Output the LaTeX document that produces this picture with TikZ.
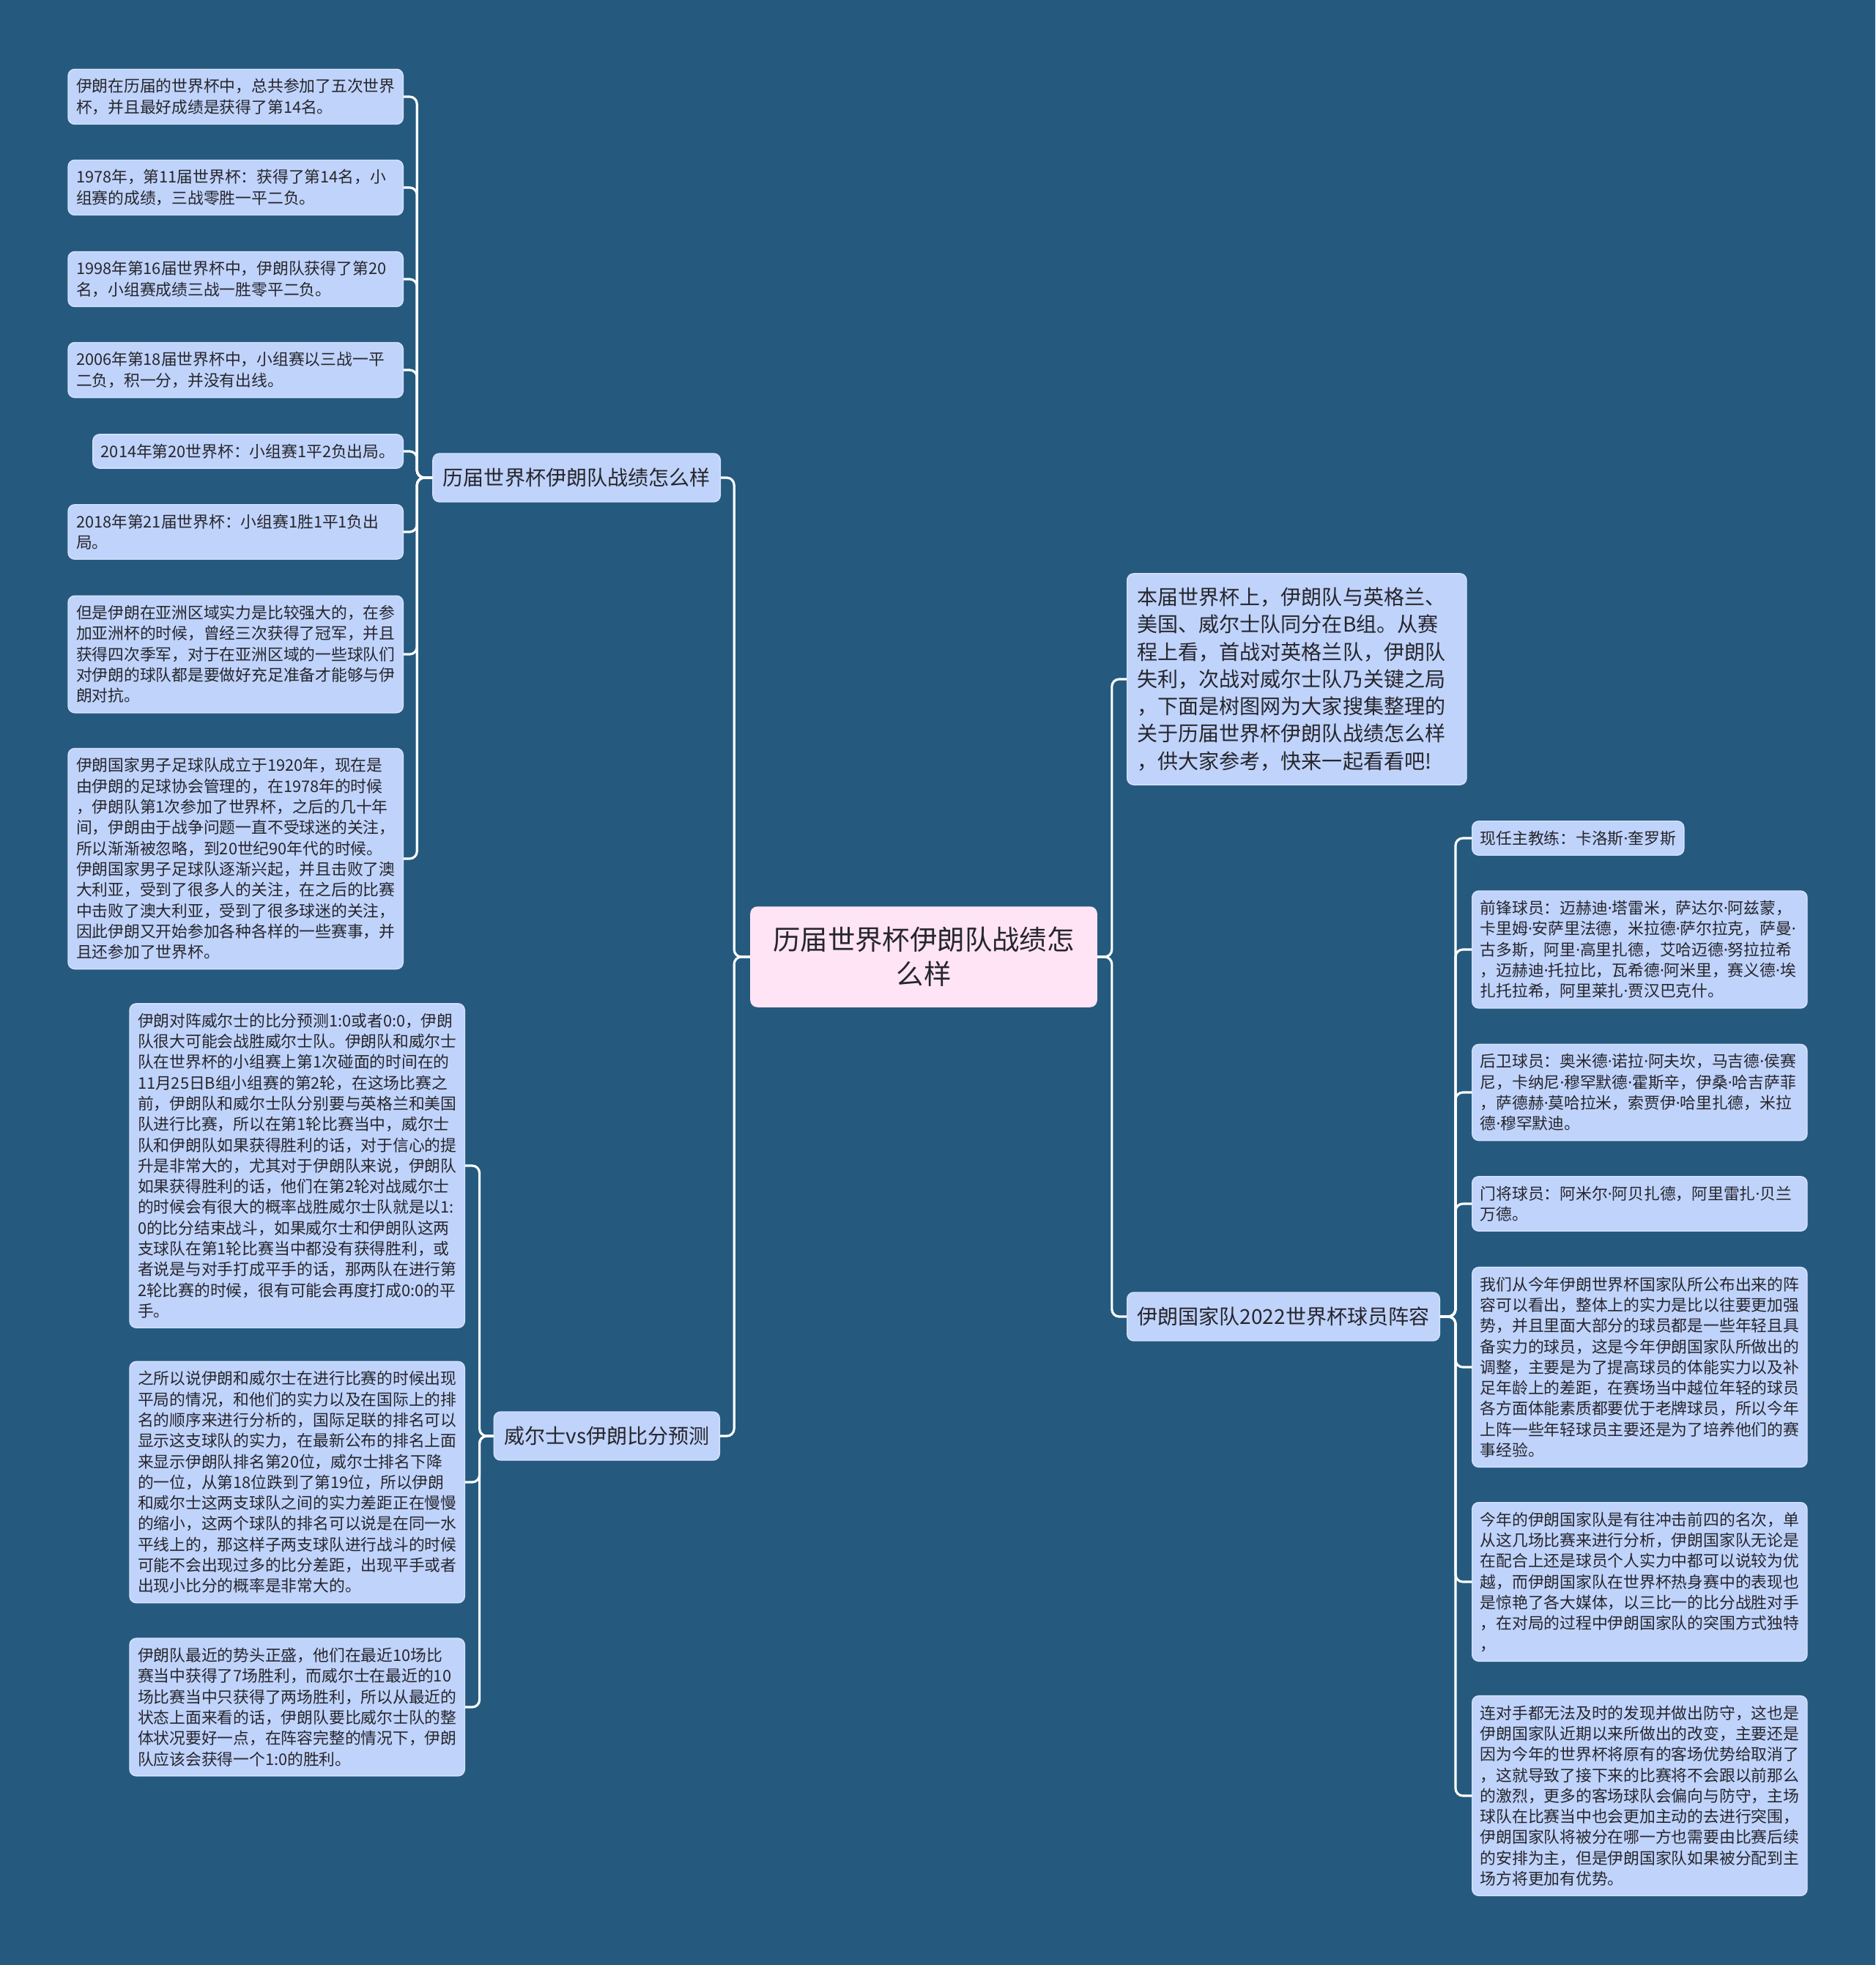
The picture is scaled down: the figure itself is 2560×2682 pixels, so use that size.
\documentclass[tikz,border=0pt]{standalone}
\usepackage{fontspec}
\setmainfont{Noto Sans CJK SC}
\newfontfamily\dotfont{Noto Sans}
\usepackage{tikz}
\usetikzlibrary{positioning}
\usepackage{xcolor}
\definecolor{bgblue}{RGB}{37, 90, 126}
\definecolor{leaffill}{RGB}{192, 211, 251}
\definecolor{leafedge}{RGB}{214, 226, 252}
\definecolor{rootfill}{RGB}{255, 228, 246}
\definecolor{inkgray}{RGB}{38, 38, 44}

\newcommand\leaffont{\fontsize{6.19pt}{8.05pt}\selectfont}
\newcommand\branchfont{\fontsize{7.97pt}{10.6pt}\selectfont}
\newcommand\rootfont{\fontsize{10.64pt}{13.4pt}\selectfont}
% narrow name separator
\newcommand\pdot{{\dotfont ·}}

\tikzset{
  box/.style={rounded corners=0.09cm, fill=leaffill, draw=leafedge, line width=0.4pt, text=inkgray},
  leaf/.style={box, font=\leaffont, inner xsep=0.11cm, inner ysep=0.13cm},
  para/.style={text width=4.35cm, align=left},
  branch/.style={box, font=\branchfont, inner xsep=0.14cm, inner ysep=0.19cm, minimum height=0.66cm},
  rootbox/.style={box, fill=rootfill, draw=rootfill, font=\rootfont, align=center,
    minimum width=4.72cm, minimum height=1.36cm},
  link/.style={draw=white, line width=0.9pt, rounded corners=0.1cm},
}

\begin{document}
\begin{tikzpicture}[x=0.01cm, y=-0.01cm]
  \useasboundingbox (0,0) rectangle (2560,2682);
  \fill[bgblue] (0,0) rectangle (2560,2682);

  % centre and main branches
  \node[rootbox] (root) at (1261,1306) {历届世界杯伊朗队战绩怎\\么样};
  \node[branch, anchor=east] (hist) at (984,652) {历届世界杯伊朗队战绩怎么样};
  \node[branch, anchor=east] (wales) at (983,1960) {威尔士vs伊朗比分预测};
  \node[branch, para, anchor=west] (intro) at (1538,927) {本届世界杯上，伊朗队与英格兰、\\美国、威尔士队同分在B组。从赛\\程上看，首战对英格兰队，伊朗队\\失利，次战对威尔士队乃关键之局\\，下面是树图网为大家搜集整理的\\关于历届世界杯伊朗队战绩怎么样\\，供大家参考，快来一起看看吧!};
  \node[branch, anchor=west] (squad) at (1538,1797) {伊朗国家队2022世界杯球员阵容};

  % history leaves
  \node[leaf, para, anchor=east] (h1) at (551,132) {伊朗在历届的世界杯中，总共参加了五次世界\\杯，并且最好成绩是获得了第14名。};
  \node[leaf, para, anchor=east] (h2) at (551,256) {1978年，第11届世界杯：获得了第14名，小\\组赛的成绩，三战零胜一平二负。};
  \node[leaf, para, anchor=east] (h3) at (551,381) {1998年第16届世界杯中，伊朗队获得了第20\\名，小组赛成绩三战一胜零平二负。};
  \node[leaf, para, anchor=east] (h4) at (551,505) {2006年第18届世界杯中，小组赛以三战一平\\二负，积一分，并没有出线。};
  \node[leaf, anchor=east] (h5) at (551,616) {2014年第20世界杯：小组赛1平2负出局。};
  \node[leaf, para, anchor=east] (h6) at (551,726) {2018年第21届世界杯：小组赛1胜1平1负出\\局。};
  \node[leaf, para, anchor=east] (h7) at (551,893) {但是伊朗在亚洲区域实力是比较强大的，在参\\加亚洲杯的时候，曾经三次获得了冠军，并且\\获得四次季军，对于在亚洲区域的一些球队们\\对伊朗的球队都是要做好充足准备才能够与伊\\朗对抗。};
  \node[leaf, para, anchor=east] (h8) at (551,1172) {伊朗国家男子足球队成立于1920年，现在是\\由伊朗的足球协会管理的，在1978年的时候\\，伊朗队第1次参加了世界杯，之后的几十年\\间，伊朗由于战争问题一直不受球迷的关注，\\所以渐渐被忽略，到20世纪90年代的时候。\\伊朗国家男子足球队逐渐兴起，并且击败了澳\\大利亚，受到了很多人的关注，在之后的比赛\\中击败了澳大利亚，受到了很多球迷的关注，\\因此伊朗又开始参加各种各样的一些赛事，并\\且还参加了世界杯。};

  % prediction leaves
  \node[leaf, para, anchor=east] (w1) at (635,1591) {伊朗对阵威尔士的比分预测1:0或者0:0，伊朗\\队很大可能会战胜威尔士队。伊朗队和威尔士\\队在世界杯的小组赛上第1次碰面的时间在的\\11月25日B组小组赛的第2轮，在这场比赛之\\前，伊朗队和威尔士队分别要与英格兰和美国\\队进行比赛，所以在第1轮比赛当中，威尔士\\队和伊朗队如果获得胜利的话，对于信心的提\\升是非常大的，尤其对于伊朗队来说，伊朗队\\如果获得胜利的话，他们在第2轮对战威尔士\\的时候会有很大的概率战胜威尔士队就是以1:\\0的比分结束战斗，如果威尔士和伊朗队这两\\支球队在第1轮比赛当中都没有获得胜利，或\\者说是与对手打成平手的话，那两队在进行第\\2轮比赛的时候，很有可能会再度打成0:0的平\\手。};
  \node[leaf, para, anchor=east] (w2) at (635,2023) {之所以说伊朗和威尔士在进行比赛的时候出现\\平局的情况，和他们的实力以及在国际上的排\\名的顺序来进行分析的，国际足联的排名可以\\显示这支球队的实力，在最新公布的排名上面\\来显示伊朗队排名第20位，威尔士排名下降\\的一位，从第18位跌到了第19位，所以伊朗\\和威尔士这两支球队之间的实力差距正在慢慢\\的缩小，这两个球队的排名可以说是在同一水\\平线上的，那这样子两支球队进行战斗的时候\\可能不会出现过多的比分差距，出现平手或者\\出现小比分的概率是非常大的。};
  \node[leaf, para, anchor=east] (w3) at (635,2330) {伊朗队最近的势头正盛，他们在最近10场比\\赛当中获得了7场胜利，而威尔士在最近的10\\场比赛当中只获得了两场胜利，所以从最近的\\状态上面来看的话，伊朗队要比威尔士队的整\\体状况要好一点，在阵容完整的情况下，伊朗\\队应该会获得一个1:0的胜利。};

  % squad leaves
  \node[leaf, anchor=west] (s1) at (2009,1144) {现任主教练：卡洛斯\pdot 奎罗斯};
  \node[leaf, para, anchor=west] (s2) at (2009,1296) {前锋球员：迈赫迪\pdot 塔雷米，萨达尔\pdot 阿兹蒙，\\卡里姆\pdot 安萨里法德，米拉德\pdot 萨尔拉克，萨曼\pdot\\古多斯，阿里\pdot 高里扎德，艾哈迈德\pdot 努拉拉希\\，迈赫迪\pdot 托拉比，瓦希德\pdot 阿米里，赛义德\pdot 埃\\扎托拉希，阿里莱扎\pdot 贾汉巴克什。};
  \node[leaf, para, anchor=west] (s3) at (2009,1491) {后卫球员：奥米德\pdot 诺拉\pdot 阿夫坎，马吉德\pdot 侯赛\\尼，卡纳尼\pdot 穆罕默德\pdot 霍斯辛，伊桑\pdot 哈吉萨菲\\，萨德赫\pdot 莫哈拉米，索贾伊\pdot 哈里扎德，米拉\\德\pdot 穆罕默迪。};
  \node[leaf, para, anchor=west] (s4) at (2009,1643) {门将球员：阿米尔\pdot 阿贝扎德，阿里雷扎\pdot 贝兰\\万德。};
  \node[leaf, para, anchor=west] (s5) at (2009,1866) {我们从今年伊朗世界杯国家队所公布出来的阵\\容可以看出，整体上的实力是比以往要更加强\\势，并且里面大部分的球员都是一些年轻且具\\备实力的球员，这是今年伊朗国家队所做出的\\调整，主要是为了提高球员的体能实力以及补\\足年龄上的差距，在赛场当中越位年轻的球员\\各方面体能素质都要优于老牌球员，所以今年\\上阵一些年轻球员主要还是为了培养他们的赛\\事经验。};
  \node[leaf, para, anchor=west] (s6) at (2009,2159) {今年的伊朗国家队是有往冲击前四的名次，单\\从这几场比赛来进行分析，伊朗国家队无论是\\在配合上还是球员个人实力中都可以说较为优\\越，而伊朗国家队在世界杯热身赛中的表现也\\是惊艳了各大媒体，以三比一的比分战胜对手\\，在对局的过程中伊朗国家队的突围方式独特\\，};
  \node[leaf, para, anchor=west] (s7) at (2009,2451) {连对手都无法及时的发现并做出防守，这也是\\伊朗国家队近期以来所做出的改变，主要还是\\因为今年的世界杯将原有的客场优势给取消了\\，这就导致了接下来的比赛将不会跟以前那么\\的激烈，更多的客场球队会偏向与防守，主场\\球队在比赛当中也会更加主动的去进行突围，\\伊朗国家队将被分在哪一方也需要由比赛后续\\的安排为主，但是伊朗国家队如果被分配到主\\场方将更加有优势。};

  % connectors
  \foreach \b in {hist, wales}
    \draw[link] (root.west) -- ++(-22,0) |- (\b.east);
  \foreach \b in {intro, squad}
    \draw[link] (root.east) -- ++(20,0) |- (\b.west);
  \foreach \i in {1,...,8}
    \draw[link] (hist.west) -- ++(-21,0) |- (h\i.east);
  \foreach \i in {1,...,3}
    \draw[link] (wales.west) -- ++(-19,0) |- (w\i.east);
  \foreach \i in {1,...,7}
    \draw[link] (squad.east) -- ++(21,0) |- (s\i.west);
\end{tikzpicture}
\end{document}
